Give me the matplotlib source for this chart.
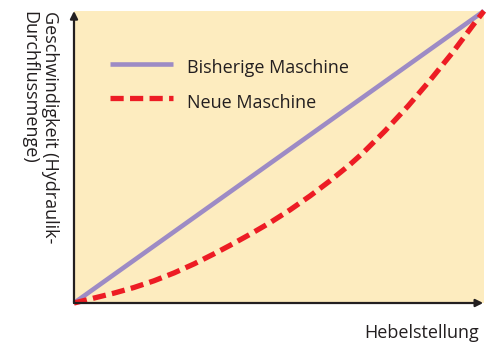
import matplotlib.pyplot as plt

# lever position (0..100) vs speed / hydraulic flow (0..100)
hebel_alt = [0, 100]
speed_alt = [0, 100]

hebel_neu = [0, 4.9, 9.8, 14.6, 19.5, 24.4, 29.3, 34.1, 38.0, 42.9, 47.8,
             52.7, 57.6, 62.4, 67.3, 70.4, 75.9, 81.5, 86.8, 92.4, 97.4, 100]
speed_neu = [0, 1.7, 3.4, 5.3, 7.6, 10.3, 13.4, 16.8, 19.7, 23.5, 27.5,
             31.9, 36.7, 41.8, 47.4, 51.3, 59.0, 67.5, 76.2, 85.9, 95.3, 100]

bg = '#fdecbf'
purple = '#9d8bc5'
red = '#ed1c24'
dark = '#231f20'

plt.rcParams['font.family'] = ['Open Sans', 'DejaVu Sans']

fig = plt.figure(figsize=(4.95, 3.42), dpi=100)
ax = fig.add_axes([74 / 495, 39 / 342, 410 / 495, 292 / 342])
ax.set_facecolor(bg)
ax.set_xlim(0, 100)
ax.set_ylim(0, 100)
for s in ax.spines.values():
    s.set_visible(False)
ax.set_xticks([])
ax.set_yticks([])

ax.plot(hebel_alt, speed_alt, color=purple, lw=3.3, solid_capstyle='butt', clip_on=False, zorder=3)
ax.plot(hebel_neu, speed_neu, color=red, lw=3.8, dashes=(2.5, 1.2), clip_on=False, zorder=4)

# axes with arrows
arrow = dict(arrowstyle='-|>', color=dark, lw=1.6, mutation_scale=11, shrinkA=0, shrinkB=0)
ax.annotate('', xy=(0, 1.0), xytext=(0, 0), xycoords='axes fraction', arrowprops=arrow, zorder=5)
ax.annotate('', xy=(0.998, 0), xytext=(0, 0), xycoords='axes fraction', arrowprops=arrow, zorder=5)

# legend drawn by hand
fig.lines.append(plt.Line2D([110 / 495, 173 / 495], [1 - 64 / 342, 1 - 64 / 342],
                            color=purple, lw=3.3, solid_capstyle='butt', transform=fig.transFigure))
fig.lines.append(plt.Line2D([110 / 495, 173 / 495], [1 - 98 / 342, 1 - 98 / 342],
                            color=red, lw=3.8, dashes=(2.5, 1.2), transform=fig.transFigure))
fig.text(187 / 495, 1 - 73 / 342, 'Bisherige Maschine', fontsize=13, color=dark, va='baseline')
fig.text(187 / 495, 1 - 108 / 342, 'Neue Maschine', fontsize=13, color=dark, va='baseline')

fig.text(479 / 495, 1 - 338 / 342, 'Hebelstellung', fontsize=13, color=dark,
         ha='right', va='baseline')
fig.text(40 / 495, 1 - 11 / 342, 'Geschwindigkeit (Hydraulik-\nDurchflussmenge)',
         fontsize=13, color=dark, rotation=-90, ha='center', va='top',
         linespacing=1.2, multialignment='left')

fig.savefig('out.png', dpi=100, facecolor='white')
